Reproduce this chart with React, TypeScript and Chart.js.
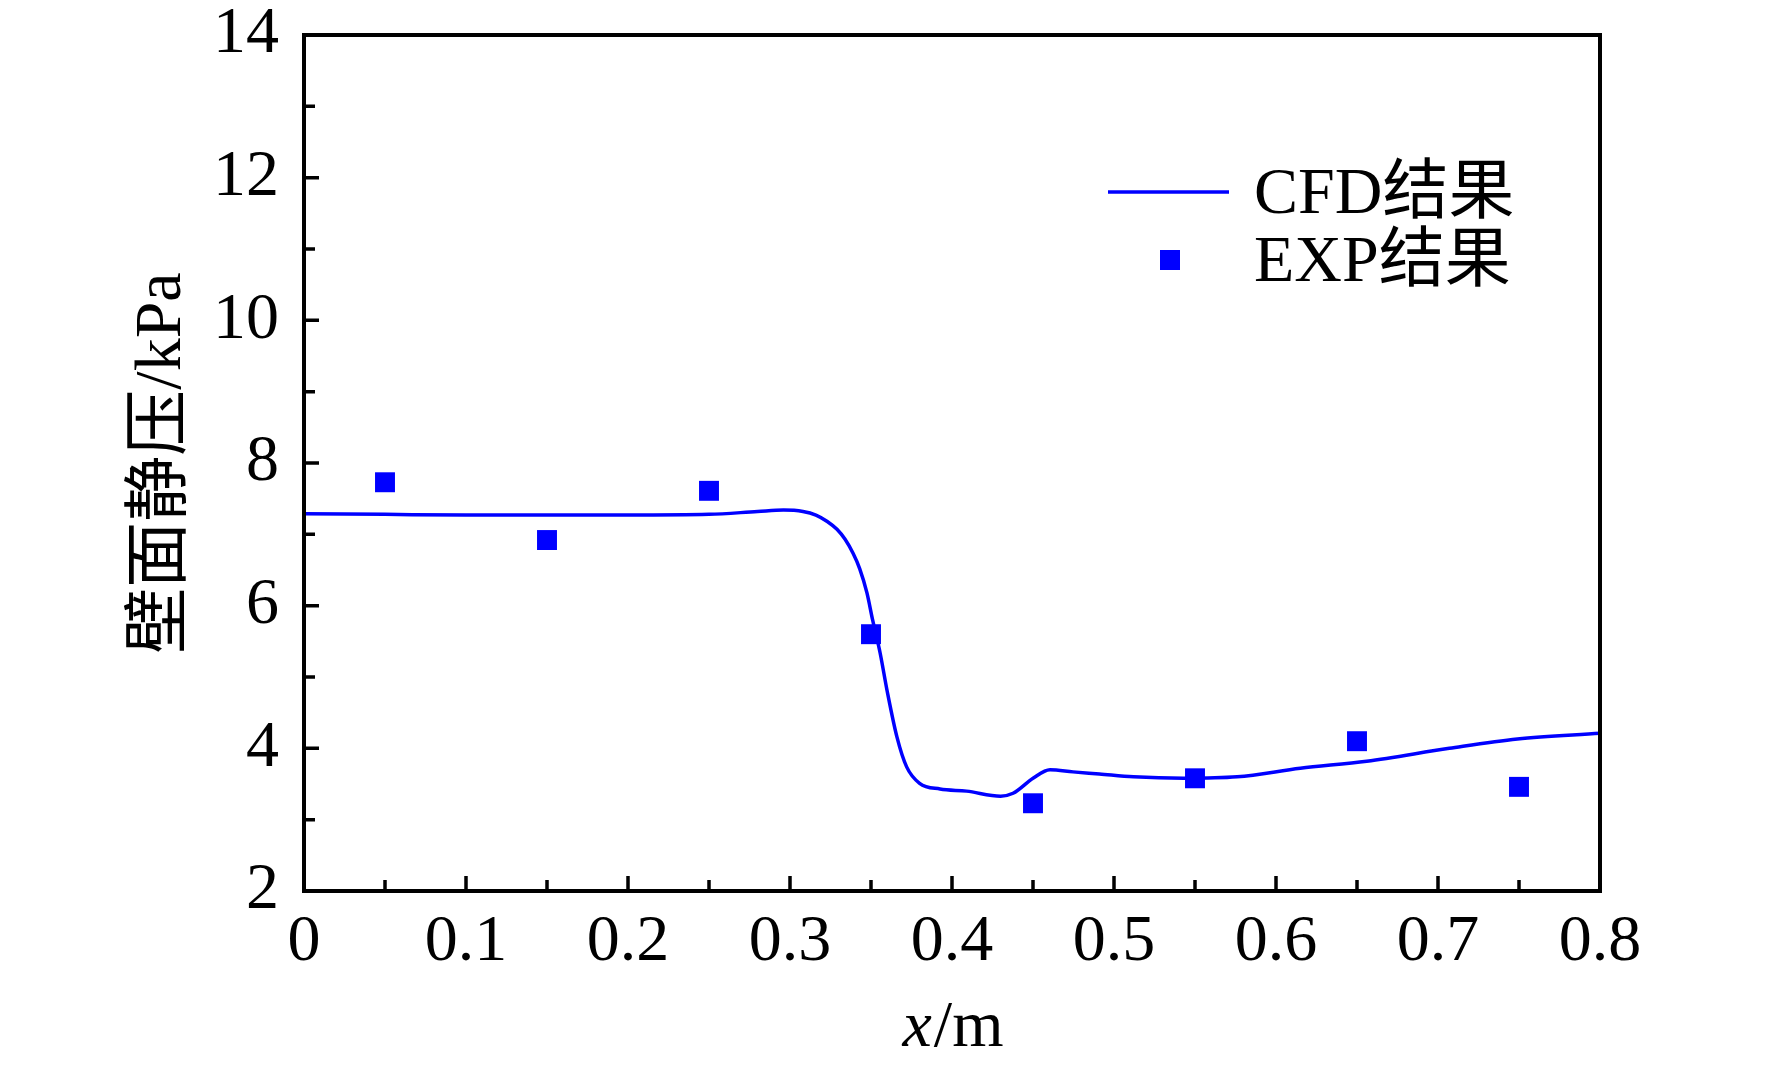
import React, { useEffect, useRef } from 'react';
import { Chart, registerables } from 'chart.js';

Chart.register(...registerables);

// CFD curve
const cfdX = [0, 0.05, 0.1, 0.15, 0.2, 0.25, 0.28, 0.296, 0.308, 0.316, 0.323, 0.329, 0.334, 0.339, 0.343, 0.3475, 0.351, 0.3556, 0.36, 0.366, 0.372, 0.38, 0.3926, 0.409, 0.43, 0.4377, 0.45, 0.4605, 0.4747, 0.491, 0.512, 0.543, 0.576, 0.615, 0.656, 0.707, 0.749, 0.8];
const cfdY = [7.29, 7.28, 7.27, 7.27, 7.27, 7.28, 7.32, 7.34, 7.32, 7.27, 7.18, 7.07, 6.93, 6.73, 6.52, 6.18, 5.8, 5.34, 4.8, 4.16, 3.74, 3.51, 3.43, 3.4, 3.33, 3.37, 3.58, 3.7, 3.67, 3.64, 3.6, 3.58, 3.6, 3.72, 3.82, 4.0, 4.13, 4.21];

// experiment points
const expX = [0.05, 0.15, 0.25, 0.35, 0.45, 0.55, 0.65, 0.75];
const expY = [7.73, 6.92, 7.61, 5.6, 3.23, 3.58, 4.1, 3.46];

const seriesNames = ['CFD结果', 'EXP结果'];
const xTicks = [0, 0.1, 0.2, 0.3, 0.4, 0.5, 0.6, 0.7, 0.8];
const xMinor = [0.05, 0.15, 0.25, 0.35, 0.45, 0.55, 0.65, 0.75];
const yTicks = [2, 4, 6, 8, 10, 12, 14];
const yMinor = [3, 5, 7, 9, 11, 13];
const yTitle = '壁面静压/kPa';
const xTitleVar = 'x';
const xTitleUnit = '/m';

const BLUE = '#0000ff';
const SERIF = '"Liberation Serif", "Times New Roman", "Noto Sans CJK SC", serif';
const FS = 66;

const framePlugin = {
  id: 'frame',
  afterDraw(chart: any) {
    const { ctx, chartArea } = chart;
    const { left, right, top, bottom } = chartArea;
    const xs = chart.scales.x;
    const ys = chart.scales.y;
    ctx.save();
    ctx.strokeStyle = '#000';
    ctx.lineWidth = 4;
    ctx.strokeRect(left, top, right - left, bottom - top);
    ctx.lineWidth = 3.5;
    ctx.beginPath();
    yTicks.forEach((v) => {
      const p = ys.getPixelForValue(v);
      ctx.moveTo(left, p);
      ctx.lineTo(left + 15, p);
    });
    yMinor.forEach((v) => {
      const p = ys.getPixelForValue(v);
      ctx.moveTo(left, p);
      ctx.lineTo(left + 11, p);
    });
    xTicks.forEach((v) => {
      const p = xs.getPixelForValue(v);
      ctx.moveTo(p, bottom);
      ctx.lineTo(p, bottom - 15);
    });
    xMinor.forEach((v) => {
      const p = xs.getPixelForValue(v);
      ctx.moveTo(p, bottom);
      ctx.lineTo(p, bottom - 11);
    });
    ctx.stroke();

    // x axis title, italic variable
    ctx.fillStyle = '#000';
    ctx.textBaseline = 'alphabetic';
    ctx.textAlign = 'left';
    ctx.font = `italic ${FS}px ${SERIF}`;
    const w1 = ctx.measureText(xTitleVar).width;
    ctx.font = `${FS}px ${SERIF}`;
    const w2 = ctx.measureText(xTitleUnit).width;
    const cx = (left + right) / 2;
    const tx = cx - (w1 + w2) / 2;
    ctx.font = `italic ${FS}px ${SERIF}`;
    ctx.fillText(xTitleVar, tx, 1046);
    ctx.font = `${FS}px ${SERIF}`;
    ctx.fillText(xTitleUnit, tx + w1 + 2, 1046);

    // legend
    ctx.strokeStyle = BLUE;
    ctx.lineWidth = 3.5;
    ctx.beginPath();
    ctx.moveTo(1108, 192);
    ctx.lineTo(1229, 192);
    ctx.stroke();
    ctx.fillStyle = BLUE;
    ctx.fillRect(1160, 250, 20, 20);
    ctx.fillStyle = '#000';
    ctx.fillText(seriesNames[0], 1254, 213);
    ctx.fillText(seriesNames[1], 1254, 281);
    ctx.restore();
  },
};

const App = () => {
  const chartRef = useRef<HTMLCanvasElement>(null);

  useEffect(() => {
    document.body.style.margin = '0';
    if (!chartRef.current) return;
    const chart = new Chart(chartRef.current, {
      type: 'scatter',
      data: {
        datasets: [
          {
            type: 'line',
            label: seriesNames[0],
            data: cfdX.map((x, i) => ({ x, y: cfdY[i] })),
            borderColor: BLUE,
            borderWidth: 3.5,
            pointRadius: 0,
            cubicInterpolationMode: 'monotone',
            fill: false,
          },
          {
            label: seriesNames[1],
            data: expX.map((x, i) => ({ x, y: expY[i] })),
            backgroundColor: BLUE,
            borderWidth: 0,
            pointStyle: 'rect',
            pointRadius: 14.1,
          },
        ],
      },
      options: {
        animation: false,
        responsive: false,
        devicePixelRatio: 1,
        layout: { padding: { top: 35, right: 172, left: 0, bottom: 0 } },
        plugins: { legend: { display: false }, tooltip: { enabled: false } },
        scales: {
          x: {
            type: 'linear',
            min: 0,
            max: 0.8,
            grid: { display: false, drawTicks: false },
            border: { display: false },
            afterBuildTicks: (s: any) => { s.ticks = xTicks.map((v) => ({ value: v })); },
            afterFit: (s: any) => { s.height = 176; s.paddingLeft = 0; s.paddingRight = 0; },
            ticks: {
              color: '#000',
              font: { family: SERIF, size: FS },
              padding: 12,
              maxRotation: 0,
              callback: (v: any) => String(v),
            },
          },
          y: {
            type: 'linear',
            min: 2,
            max: 14,
            grid: { display: false, drawTicks: false },
            border: { display: false },
            afterBuildTicks: (s: any) => { s.ticks = yTicks.map((v) => ({ value: v })); },
            afterFit: (s: any) => { s.width = 304; s.paddingTop = 0; s.paddingBottom = 0; },
            ticks: {
              color: '#000',
              font: { family: SERIF, size: FS },
              padding: 25,
              callback: (v: any) => String(v),
            },
            title: {
              display: true,
              text: yTitle,
              color: '#000',
              font: { family: SERIF, size: FS },
              padding: { top: 123, bottom: 0 },
            },
          },
        },
      },
      plugins: [framePlugin],
    } as any);
    return () => chart.destroy();
  }, []);

  return (
    <div style={{ position: 'absolute', left: 0, top: 0, width: 1772, height: 1067, background: '#fff' }}>
      <canvas ref={chartRef} width={1772} height={1067} style={{ display: 'block' }} />
    </div>
  );
};

export default App;
